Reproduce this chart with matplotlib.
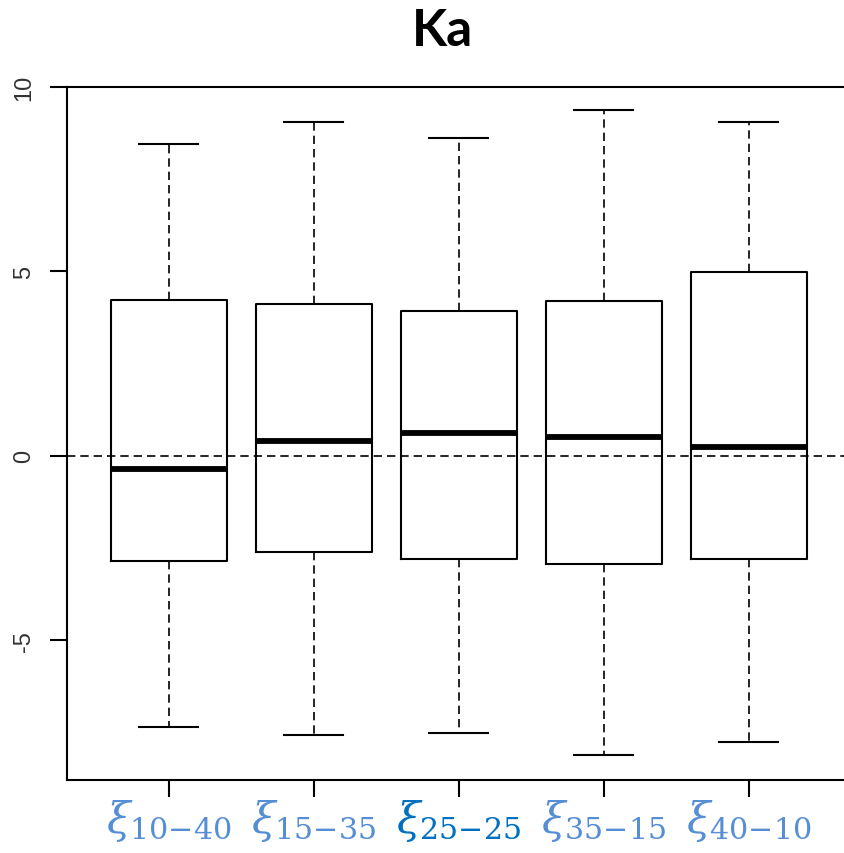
import matplotlib
matplotlib.use("Agg")
import matplotlib.pyplot as plt

# values (one box per group)
groups = ["10{-}40", "15{-}35", "25{-}25", "35{-}15", "40{-}10"]
whisk_hi = [8.45, 9.05, 8.62, 9.38, 9.05]
q3 = [4.23, 4.11, 3.92, 4.21, 4.98]
medians = [-0.35, 0.41, 0.63, 0.52, 0.25]
q1 = [-2.84, -2.62, -2.79, -2.94, -2.79]
whisk_lo = [-7.35, -7.57, -7.51, -8.12, -7.77]
label_colors = ["#558ED5", "#558ED5", "#0070C0", "#558ED5", "#558ED5"]
yticks = [-5, 0, 5, 10]

plt.rcParams["mathtext.fontset"] = "dejavuserif"

fig = plt.figure(figsize=(8.44, 8.54), dpi=100)
ax = fig.add_axes([67 / 844, 73 / 854, 783 / 844, 693 / 854])

stats = []
for i, g in enumerate(groups):
    stats.append(dict(label=g, whislo=whisk_lo[i], q1=q1[i], med=medians[i],
                      q3=q3[i], whishi=whisk_hi[i], fliers=[]))

dash = (0, (5.0, 3.0))
ax.bxp(stats, positions=range(1, len(groups) + 1), widths=0.8,
       showfliers=False, capwidths=0.41,
       boxprops=dict(color="black", lw=1.5),
       medianprops=dict(color="black", lw=4.2, solid_capstyle="butt"),
       whiskerprops=dict(color="black", lw=1.2, linestyle=dash),
       capprops=dict(color="black", lw=1.5))
ax.axhline(0, color="black", lw=1.2, linestyle=dash, zorder=5)

ax.set_xlim(0.3, 5.7)
ax.set_ylim(-8.79, 10)
ax.set_yticks(yticks)
ax.set_yticklabels([str(t) for t in yticks], rotation=90, va="center",
                   fontsize=17, color="#333333", family="Liberation Sans")
ax.set_xticks(range(1, len(groups) + 1))
ax.set_xticklabels([r"$\xi_{%s}$" % g for g in groups], fontsize=31)
for lab, c in zip(ax.get_xticklabels(), label_colors):
    lab.set_color(c)

ax.tick_params(axis="both", length=12, width=1.5, color="black")
ax.tick_params(axis="y", pad=11)
ax.tick_params(axis="x", pad=0)
for s in ax.spines.values():
    s.set_linewidth(1.5)

fig.text(442 / 844, 1 - 32 / 854, "Ka", ha="center", va="center",
         fontsize=37, fontweight="bold", family="Lato")

fig.savefig("out.png", dpi=100)
